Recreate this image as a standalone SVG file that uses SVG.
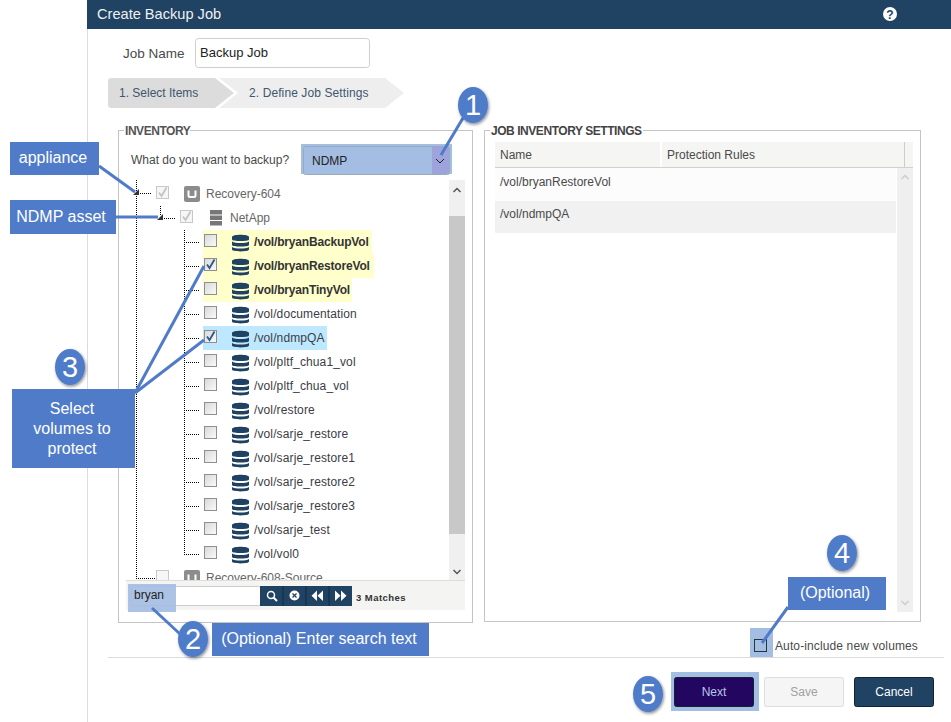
<svg xmlns="http://www.w3.org/2000/svg" width="951" height="722" viewBox="0 0 951 722">
<style>
text{font-family:"Liberation Sans",Arial,sans-serif;font-size:12px;fill:#4a4a4a}
.b{font-weight:bold;fill:#333;letter-spacing:-.17px}
.v{fill:#3c3c46;letter-spacing:.12px}
.lg{font-weight:bold;fill:#555;letter-spacing:-.45px}
.fs{fill:#fff;stroke:#c4c4c4}
.dv{fill:url(#dv);shape-rendering:crispEdges}
.dh{fill:url(#dh);shape-rendering:crispEdges}
.call{fill:#4f7bc9}
.ct{fill:#fff;font-size:16px;text-anchor:middle}
.bt{fill:#fff;font-size:29px;text-anchor:middle}
.badge{fill:#4f7bc9;filter:url(#sh)}
.con{fill:none;stroke:#4f7bc9;stroke-width:3}
.hl{fill:#a4bde3}
.btn{font-size:12px;text-anchor:middle}
</style>
<defs>
<pattern id="dv" width="2" height="2" patternUnits="userSpaceOnUse"><rect width="2" height="1" fill="#000"/></pattern>
<pattern id="dh" width="2" height="2" patternUnits="userSpaceOnUse"><rect width="1" height="2" fill="#000"/></pattern>
<filter id="sh" x="-30%" y="-30%" width="170%" height="170%"><feDropShadow dx="1" dy="1.5" stdDeviation="1.5" flood-color="#000" flood-opacity=".45"/></filter>
<linearGradient id="cb" x1="0" y1="0" x2="1" y2="1"><stop offset="0" stop-color="#d8d8d8"/><stop offset="1" stop-color="#fbfbfb"/></linearGradient>
<g id="db"><path d="M0 3C0 0 17 0 17 3V5.500C17 7.500 0 7.500 0 5.500Z M0 7.500C3 9.500 14 9.500 17 7.500V11C17 13 0 13 0 11Z M0 13C3 15 14 15 17 13V15.500C17 18 0 18 0 15.500Z" fill="#1f4263"/></g>
<g id="box"><rect x=".5" y=".5" width="12" height="12" fill="url(#cb)" stroke="#8f8f8f"/></g>
<g id="boxd"><rect x=".5" y=".5" width="12" height="12" fill="#f6f6f6" stroke="#c8c8c8"/></g>
<path id="chk" d="M3 6.500L5.500 10L10.500 1.500" fill="none" stroke="#2a5a85" stroke-width="1.800"/>
<path id="chkd" d="M3 6.500L5.500 10L10.500 1.500" fill="none" stroke="#c4c4c4" stroke-width="1.800"/>
<g id="rec"><rect width="16" height="16" rx="2" fill="#8c8c8c"/><path d="M4.500 4.500V9.500Q4.500 11 6 11H10Q11.500 11 11.500 9.500V4.500" fill="none" stroke="#fff" stroke-width="2"/></g>
</defs>
<rect width="951" height="722" fill="#fff"/>
<g id="dialog">
<line x1="87.500" y1="29" x2="87.500" y2="722" stroke="#dcdcdc"/>
<rect x="87" width="864" height="29" fill="#204263"/>
<text x="97" y="19" style="font-size:14.600px;fill:#f0f0f0">Create Backup Job</text>
<circle cx="890" cy="14" r="7" fill="#fff"/>
<text x="890" y="18.500" style="font-weight:bold;fill:#204263;text-anchor:middle">?</text>
<text x="123" y="58" style="font-size:13.500px">Job Name</text>
<rect x="195.500" y="38.500" width="174" height="29" rx="3" fill="#fff" stroke="#cfcfcf"/>
<text x="200" y="57" style="font-size:13px;fill:#222">Backup Job</text>
<path d="M111 78H215L234 93L215 108H111Q108 108 108 105V81Q108 78 111 78Z" fill="#dcdcdc"/>
<path d="M219 78H385L404 93L385 108H219L238 93Z" fill="#eee"/>
<text x="119" y="97" style="fill:#40566e">1. Select Items</text>
<text x="249" y="97" style="fill:#40566e;letter-spacing:.1px">2. Define Job Settings</text>
<line x1="108" y1="657.500" x2="944" y2="657.500" stroke="#dcdcdc"/>
</g>
<g id="inventory">
<rect class="fs" x="118.500" y="130.500" width="354" height="492"/>
<rect x="124" y="124" width="66" height="12" fill="#fff"/>
<text x="125" y="135" class="lg">INVENTORY</text>
<text x="131" y="164">What do you want to backup?</text>
<rect class="hl" x="301" y="144" width="151" height="30"/>
<rect x="303.500" y="146.500" width="146" height="28" rx="2" fill="none" stroke="#9ab"/>
<rect x="432" y="147" width="17" height="27" fill="#9fa3dc"/>
<path d="M436 159L440 163L444 159" fill="none" stroke="#222"/>
<text x="312" y="165" style="fill:#222">NDMP</text>
<rect x="449" y="180" width="16" height="400" fill="#f0f0f0"/>
<rect x="449" y="216" width="16" height="318" fill="#c8c8c8"/>
<path d="M453.500 192L457 188.500L460.500 192M453.500 570L457 573.500L460.500 570" fill="none" stroke="#555" stroke-width="1.500"/>
<rect class="dv" x="136" y="180" width="1" height="398"/>
<rect class="dh" x="136" y="578" width="20" height="1"/>
<rect class="dh" x="139" y="193" width="13" height="1"/>
<rect class="dv" x="160" y="206" width="1" height="9"/>
<rect class="dh" x="163" y="218" width="13" height="1"/>
<rect class="dv" x="184" y="229" width="1" height="325"/>
<rect class="dh" x="184" y="554" width="15" height="1"/>
<g class="rows">
<rect class="dh" x="185" y="242" width="15" height="1"/><rect class="dh" x="185" y="266" width="15" height="1"/><rect class="dh" x="185" y="290" width="15" height="1"/><rect class="dh" x="185" y="314" width="15" height="1"/><rect class="dh" x="185" y="338" width="15" height="1"/><rect class="dh" x="185" y="362" width="15" height="1"/><rect class="dh" x="185" y="386" width="15" height="1"/><rect class="dh" x="185" y="410" width="15" height="1"/><rect class="dh" x="185" y="434" width="15" height="1"/><rect class="dh" x="185" y="458" width="15" height="1"/><rect class="dh" x="185" y="482" width="15" height="1"/><rect class="dh" x="185" y="506" width="15" height="1"/><rect class="dh" x="185" y="530" width="15" height="1"/>
</g>
<path d="M133 195L139 189V195ZM157 220L163 214V220Z" fill="#333"/>
<use href="#boxd" x="156" y="186"/><use href="#chkd" x="156" y="186"/>
<use href="#rec" x="184" y="186"/>
<text x="206" y="198" style="fill:#666">Recovery-604</text>
<use href="#boxd" x="180" y="210"/><use href="#chkd" x="180" y="210"/>
<g fill="#777"><rect x="210" y="210" width="12" height="4.500"/><rect x="210" y="215.500" width="12" height="4.500"/><rect x="210" y="221" width="12" height="4.500"/></g>
<text x="230" y="222" style="fill:#666">NetApp</text>
<rect x="203" y="230" width="169" height="24" fill="#ffc"/>
<rect x="203" y="254" width="171" height="24" fill="#ffc"/>
<rect x="203" y="278" width="149" height="24" fill="#ffc"/>
<rect x="203" y="326" width="124" height="24" fill="#bde8ff"/>
<use href="#box" x="204" y="234"/><use href="#db" x="232" y="234"/><text class="b" x="254" y="246">/vol/bryanBackupVol</text>
<use href="#box" x="204" y="258"/><use href="#chk" x="204" y="258"/><use href="#db" x="232" y="258"/><text class="b" x="254" y="270">/vol/bryanRestoreVol</text>
<use href="#box" x="204" y="282"/><use href="#db" x="232" y="282"/><text class="b" x="254" y="294">/vol/bryanTinyVol</text>
<use href="#box" x="204" y="306"/><use href="#db" x="232" y="306"/><text class="v" x="254" y="318">/vol/documentation</text>
<use href="#box" x="204" y="330"/><use href="#chk" x="204" y="330"/><use href="#db" x="232" y="330"/><text class="v" x="254" y="342">/vol/ndmpQA</text>
<use href="#box" x="204" y="354"/><use href="#db" x="232" y="354"/><text class="v" x="254" y="366">/vol/pltf_chua1_vol</text>
<use href="#box" x="204" y="378"/><use href="#db" x="232" y="378"/><text class="v" x="254" y="390">/vol/pltf_chua_vol</text>
<use href="#box" x="204" y="402"/><use href="#db" x="232" y="402"/><text class="v" x="254" y="414">/vol/restore</text>
<use href="#box" x="204" y="426"/><use href="#db" x="232" y="426"/><text class="v" x="254" y="438">/vol/sarje_restore</text>
<use href="#box" x="204" y="450"/><use href="#db" x="232" y="450"/><text class="v" x="254" y="462">/vol/sarje_restore1</text>
<use href="#box" x="204" y="474"/><use href="#db" x="232" y="474"/><text class="v" x="254" y="486">/vol/sarje_restore2</text>
<use href="#box" x="204" y="498"/><use href="#db" x="232" y="498"/><text class="v" x="254" y="510">/vol/sarje_restore3</text>
<use href="#box" x="204" y="522"/><use href="#db" x="232" y="522"/><text class="v" x="254" y="534">/vol/sarje_test</text>
<use href="#box" x="204" y="546"/><use href="#db" x="232" y="546"/><text class="v" x="254" y="558">/vol/vol0</text>
<use href="#boxd" x="156" y="570"/>
<use href="#rec" x="184" y="570"/>
<text x="206" y="582" style="fill:#666">Recovery-608-Source</text>
</g>
<g id="search">
<rect x="126" y="581" width="339" height="29" fill="#f4f4f2"/>
<line x1="126" y1="580.500" x2="465" y2="580.500" stroke="#ddd"/>
<rect x="131.500" y="586.500" width="129" height="19" rx="2" fill="#fff" stroke="#ccc"/>
<rect x="128" y="584" width="48" height="28" fill="#a4bde3" opacity=".9"/>
<text x="134" y="599" style="fill:#222">bryan</text>
<rect x="260" y="586" width="92" height="20" fill="#204263"/>
<path d="M283 586V606M306 586V606M329 586V606" stroke="#0f2a44"/>
<circle cx="271" cy="595" r="3.500" fill="none" stroke="#fff" stroke-width="1.500"/>
<path d="M273.500 597.500L277 601" stroke="#fff" stroke-width="2"/>
<circle cx="294.500" cy="595.500" r="5" fill="#fff"/>
<path d="M292.500 593.500L296.500 597.500M296.500 593.500L292.500 597.500" stroke="#204263" stroke-width="1.300"/>
<path d="M317 590.500V601L311.500 595.800ZM323 590.500V601L317.500 595.800ZM335 590.500V601L340.500 595.800ZM341 590.500V601L346.500 595.800Z" fill="#fff"/>
<text x="356" y="601" style="font-weight:bold;fill:#333;font-size:9.500px;letter-spacing:.45px">3 Matches</text>
</g>
<g id="job-settings">
<rect class="fs" x="484.500" y="130.500" width="436" height="491"/>
<rect x="490" y="124" width="153" height="12" fill="#fff"/>
<text x="491" y="135" class="lg" style="fill:#444">JOB INVENTORY SETTINGS</text>
<rect x="495" y="142" width="418" height="25" fill="#f5f5f3"/>
<rect x="660" y="142" width="2" height="25" fill="#fff"/>
<line x1="904.500" y1="142" x2="904.500" y2="167" stroke="#ccc"/>
<line x1="495" y1="167.500" x2="913" y2="167.500" stroke="#d0d0d0"/>
<text x="500" y="159">Name</text>
<text x="667" y="159">Protection Rules</text>
<rect x="495" y="168" width="401" height="33" fill="#fcfcfc"/>
<rect x="495" y="201" width="401" height="32" fill="#f1f1f1"/>
<text x="500" y="186">/vol/bryanRestoreVol</text>
<text x="500" y="218">/vol/ndmpQA</text>
<rect x="897" y="168" width="16" height="444" fill="#efefef"/>
<path d="M901.500 179L905 175.500L908.500 179M901.500 601L905 604.500L908.500 601" fill="none" stroke="#ccc" stroke-width="1.500"/>
</g>
<g id="footer">
<rect class="hl" x="750" y="628" width="23" height="29"/>
<rect x="754.500" y="639.500" width="12" height="12" fill="none" stroke="#27363a"/>
<text x="775" y="650" style="letter-spacing:.12px">Auto-include new volumes</text>
<rect class="hl" x="671" y="672" width="88" height="39"/>
<rect x="674.500" y="677.500" width="79" height="29" rx="2" fill="#22065f" stroke="#123"/>
<text x="714" y="696" class="btn" style="fill:#b8c4e8">Next</text>
<rect x="764.500" y="677.500" width="79" height="29" rx="2" fill="#f5f5f5" stroke="#ddd"/>
<text x="804" y="696" class="btn" style="fill:#a0a0a0">Save</text>
<rect x="854.500" y="677.500" width="79" height="29" rx="2" fill="#204263" stroke="#123"/>
<text x="894" y="696" class="btn" style="fill:#fff">Cancel</text>
</g>
<g id="connectors">
<path class="con" d="M99 166L135 192"/>
<path class="con" d="M116 217H158"/>
<path class="con" d="M463 118L441 155"/>
<path class="con" d="M152 608L180 634"/>
<path class="con" d="M135 393L204 266"/>
<path class="con" d="M135 393L204 340"/>
<path class="con" d="M788 607L762 643"/>
</g>
<g id="callout-appliance"><rect class="call" x="10" y="142" width="89" height="33"/><text class="ct" x="53" y="163">appliance</text></g>
<g id="callout-ndmp"><rect class="call" x="10" y="200" width="106" height="34"/><text class="ct" x="61" y="222">NDMP asset</text></g>
<g id="callout-select"><rect class="call" x="12" y="389" width="123" height="79"/><text class="ct" x="72" y="414">Select</text><text class="ct" x="72" y="434">volumes to</text><text class="ct" x="72" y="454">protect</text></g>
<g id="callout-search"><rect class="call" x="212" y="623" width="217" height="33"/><text class="ct" x="319" y="644">(Optional) Enter search text</text></g>
<g id="callout-optional"><rect class="call" x="788" y="577" width="98" height="33"/><text class="ct" x="835" y="598">(Optional)</text></g>
<g id="badge-1"><ellipse class="badge" cx="473" cy="105" rx="15" ry="18"/><text class="bt" x="473" y="115">1</text></g>
<g id="badge-2"><ellipse class="badge" cx="193" cy="639" rx="15" ry="18"/><text class="bt" x="193" y="649">2</text></g>
<g id="badge-3"><ellipse class="badge" cx="70" cy="367" rx="15" ry="18"/><text class="bt" x="70" y="377">3</text></g>
<g id="badge-4"><ellipse class="badge" cx="842" cy="553" rx="15" ry="18"/><text class="bt" x="842" y="563">4</text></g>
<g id="badge-5"><ellipse class="badge" cx="648" cy="694" rx="15" ry="18"/><text class="bt" x="648" y="704">5</text></g>
</svg>
